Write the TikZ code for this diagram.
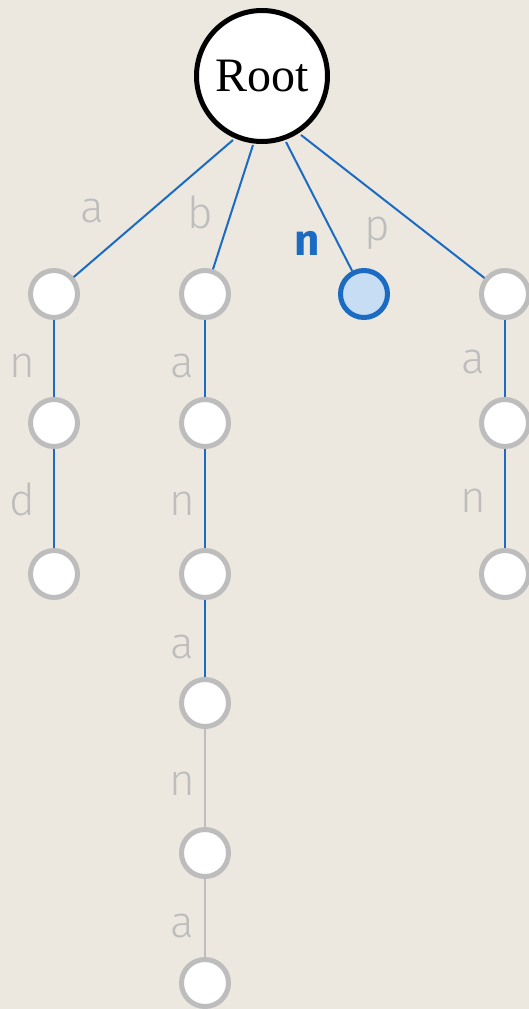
\documentclass[tikz,border=0pt]{standalone}
\usepackage{fontspec}
\setmainfont{Liberation Serif}
\newfontfamily\labelfont{Fira Sans Light}
\newfontfamily\hitfont{Fira Sans}
\definecolor{paper}{HTML}{ECE8DF}
\definecolor{trieblue}{HTML}{1C6BC2}
\definecolor{triefill}{HTML}{C6DDF4}
\definecolor{triegrey}{HTML}{BDBDBD}

\tikzstyle{every node}=[inner sep=0pt]
\tikzstyle{root}=[circle, draw=black, fill=white, line width=5pt, minimum size=131pt, font={\fontsize{48}{50}\selectfont}]
\tikzstyle{trienode}=[circle, draw=triegrey, fill=white, line width=5pt, minimum size=47pt]
\tikzstyle{current}=[trienode, draw=trieblue, fill=triefill, line width=5pt]
\tikzstyle{letter}=[anchor=base, text=triegrey, font={\labelfont\fontsize{44}{46}\selectfont}]
\tikzstyle{hit}=[letter, text=trieblue, font={\hitfont\bfseries\fontsize{44}{46}\selectfont}]
\tikzstyle{path}=[trieblue, line width=2pt]
\tikzstyle{unused}=[triegrey, line width=2pt]

\begin{document}
\begin{tikzpicture}[x=1pt, y=-1pt]
    \fill [paper] (0,0) rectangle (529,1009);
    \useasboundingbox (0,0) rectangle (529,1009);

    % edges first, so the nodes cover their ends
    \coordinate (rootc) at (262,76);
    \coordinate (ra) at (233,140);
    \coordinate (rb) at (253,145);
    \coordinate (rn) at (286,142);
    \coordinate (rp) at (301,135);

    \node [trienode] (a) at (54,294) {};
    \node [trienode] (b) at (205,294) {};
    \node [current] (n) at (364,294) {};
    \node [trienode] (p) at (505,294) {};

    % and
    \node [trienode] (an) at (54,423) {};
    \node [trienode] (and) at (54,574) {};

    % banana
    \node [trienode] (ba) at (205,423) {};
    \node [trienode] (ban) at (205,574) {};
    \node [trienode] (bana) at (205,703) {};
    \node [trienode] (banan) at (205,853) {};
    \node [trienode] (banana) at (205,983) {};

    % pan
    \node [trienode] (pa) at (505,423) {};
    \node [trienode] (pan) at (505,574) {};

    \draw [path] (ra) -- (a);
    \draw [path] (rb) -- (b);
    \draw [path] (rn) -- (n);
    \draw [path] (rp) -- (p);
    \draw [path] (a) -- (an);
    \draw [path] (an) -- (and);
    \draw [path] (b) -- (ba);
    \draw [path] (ba) -- (ban);
    \draw [path] (ban) -- (bana);
    \draw [unused] (bana) -- (banan);
    \draw [unused] (banan) -- (banana);
    \draw [path] (p) -- (pa);
    \draw [path] (pa) -- (pan);

    \node [root] (root) at (rootc) {Root};

    % edge letters
    \node [letter] (la) at (92,222) {a};
    \node [letter] (lb) at (200,228) {b};
    \node [hit] (ln) at (307,255) {n};
    \node [letter] (lp) at (377,240) {p};

    \node [letter] (lan) at (22,377) {n};
    \node [letter] (land) at (22,515) {d};

    \node [letter] (lba) at (182,377) {a};
    \node [letter] (lban) at (182,515) {n};
    \node [letter] (lbana) at (182,658) {a};
    \node [letter] (lbanan) at (182,795) {n};
    \node [letter] (lbanana) at (182,937) {a};

    \node [letter] (lpa) at (473,373) {a};
    \node [letter] (lpan) at (473,512) {n};
\end{tikzpicture}
\end{document}
